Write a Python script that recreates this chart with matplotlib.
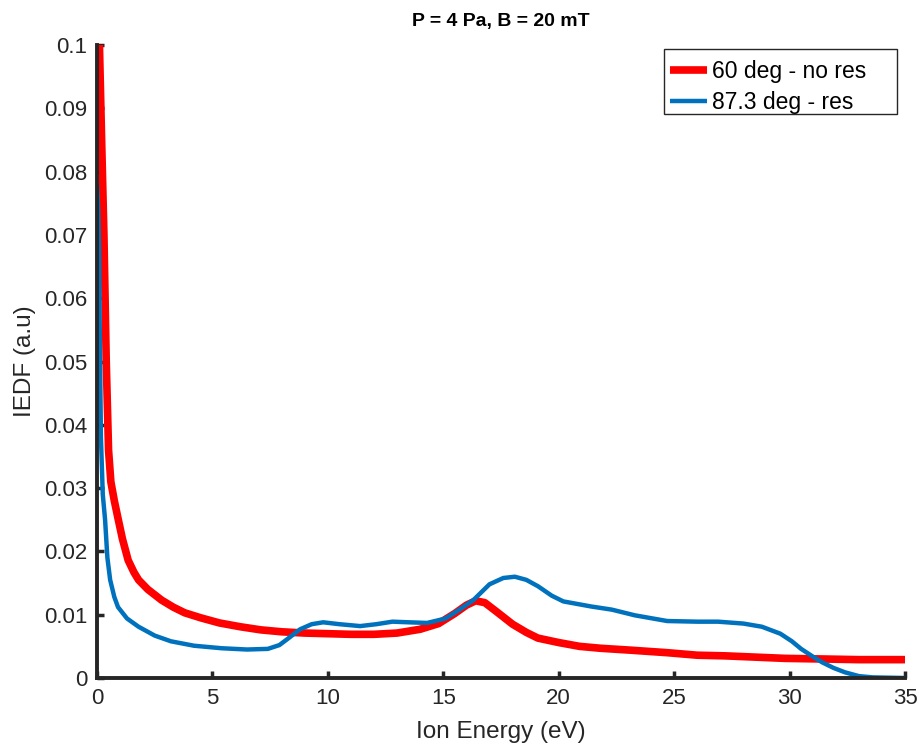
import matplotlib
matplotlib.use("Agg")
import matplotlib.pyplot as plt
from matplotlib.patches import Rectangle

# --- data ---
x_60deg = [0.08, 0.2, 0.3, 0.4, 0.5, 0.6, 0.75, 0.9, 1.1, 1.35, 1.6, 1.8, 2.2, 2.8,
           3.3, 3.8, 4.5, 5.3, 6.2, 7.1, 8.0, 9.0, 10.0, 11.0, 12.0, 13.0, 14.0,
           14.8, 15.5, 16.0, 16.4, 16.8, 17.3, 18.0, 18.6, 19.1, 20.0, 20.9, 21.8,
           23.1, 24.7, 26.0, 27.2, 28.5, 29.8, 31.5, 33.0, 35.0]
y_60deg = [0.104, 0.085, 0.070, 0.050, 0.036, 0.031, 0.028, 0.0254, 0.022, 0.0186,
           0.0167, 0.0155, 0.014, 0.0123, 0.0112, 0.0103, 0.0095, 0.0087, 0.0081,
           0.0076, 0.0073, 0.0071, 0.0070, 0.0069, 0.0069, 0.0071, 0.0077, 0.0086,
           0.0102, 0.0115, 0.0122, 0.0119, 0.0105, 0.0085, 0.0072, 0.0063, 0.0056,
           0.0050, 0.0047, 0.0044, 0.0040, 0.0036, 0.0035, 0.0033, 0.0031, 0.0030,
           0.0029, 0.0029]

x_87deg = [0.0, 0.05, 0.09, 0.12, 0.17, 0.25, 0.35, 0.45, 0.57, 0.75, 0.91, 1.3,
           1.8, 2.5, 3.2, 4.2, 5.4, 6.5, 7.4, 7.9, 8.3, 8.8, 9.3, 9.8, 10.5, 11.4,
           12.1, 12.8, 13.5, 14.3, 15.1, 15.7, 16.3, 17.0, 17.6, 18.1, 18.6, 19.1,
           19.7, 20.2, 21.4, 22.3, 23.3, 24.7, 26.0, 26.9, 28.0, 28.8, 29.6, 30.1,
           30.5, 31.0, 31.4, 31.9, 32.4, 33.0, 33.6, 35.0]
y_87deg = [0.078, 0.074, 0.068, 0.055, 0.038, 0.029, 0.025, 0.019, 0.0155, 0.0128,
           0.0112, 0.0094, 0.0081, 0.0067, 0.0058, 0.0051, 0.0047, 0.0045, 0.0046,
           0.0052, 0.0063, 0.0077, 0.0085, 0.0088, 0.0085, 0.0082, 0.0085, 0.0089,
           0.0088, 0.0087, 0.0094, 0.0108, 0.0123, 0.0148, 0.0158, 0.0160, 0.0155,
           0.0145, 0.0130, 0.0121, 0.0113, 0.0108, 0.0099, 0.0090, 0.0089, 0.0089,
           0.0086, 0.0081, 0.0070, 0.0058, 0.0046, 0.0034, 0.0025, 0.0016, 0.0009,
           0.0003, 0.0001, 0.0]

labels = ["60 deg - no res", "87.3 deg - res"]
x_ticks = [0, 5, 10, 15, 20, 25, 30, 35]
y_ticks = [0, 0.01, 0.02, 0.03, 0.04, 0.05, 0.06, 0.07, 0.08, 0.09, 0.1]
y_ticklabels = ["0", "0.01", "0.02", "0.03", "0.04", "0.05", "0.06", "0.07",
                "0.08", "0.09", "0.1"]

plt.rcParams['font.family'] = ['Liberation Sans', 'DejaVu Sans']
dark = '#262626'
W, H = 920, 749

fig = plt.figure(figsize=(9.2, 7.49), dpi=100)
ax = fig.add_axes([97 / W, 71 / H, 808 / W, 633 / H])

ax.plot(x_60deg, y_60deg, color='#ff0000', lw=5.5, label=labels[0], solid_capstyle='butt')
ax.plot(x_87deg, y_87deg, color='#0072bd', lw=3.2, label=labels[1], solid_capstyle='butt')

ax.set_xlim(0, 35)
ax.set_ylim(0, 0.1)
ax.set_xticks(x_ticks)
ax.set_yticks(y_ticks)
ax.set_yticklabels(y_ticklabels)

for side in ['top', 'right']:
    ax.spines[side].set_visible(False)
for side in ['left', 'bottom']:
    ax.spines[side].set_linewidth(2.8)
    ax.spines[side].set_color(dark)
    ax.spines[side].set_zorder(5)

ax.tick_params(direction='in', length=5, width=2.5, colors=dark, labelsize=16,
               pad=7)

ax.set_xlabel('Ion Energy (eV)', fontsize=17.5, color=dark, labelpad=9)
ax.set_ylabel('IEDF (a.u)', fontsize=17.5, color=dark, labelpad=6)
ax.set_title('P = 4 Pa, B = 20 mT', fontsize=14, fontweight='bold', pad=14)

# MATLAB-style legend: wide box with extra room on the right
ax.add_patch(Rectangle((664 / W, 1 - 114 / H), 233 / W, 65 / H,
                       transform=fig.transFigure, facecolor='white',
                       edgecolor=dark, lw=1.0, zorder=6, clip_on=False))
leg = ax.legend(loc='upper left', bbox_to_anchor=(664 / W, 1 - 54 / H),
                bbox_transform=fig.transFigure, borderaxespad=0, fontsize=16.5,
                frameon=False, handlelength=1.6, handletextpad=0.22,
                borderpad=0.26, labelspacing=0.34)
leg.set_zorder(7)

fig.savefig('out.png', dpi=100)
